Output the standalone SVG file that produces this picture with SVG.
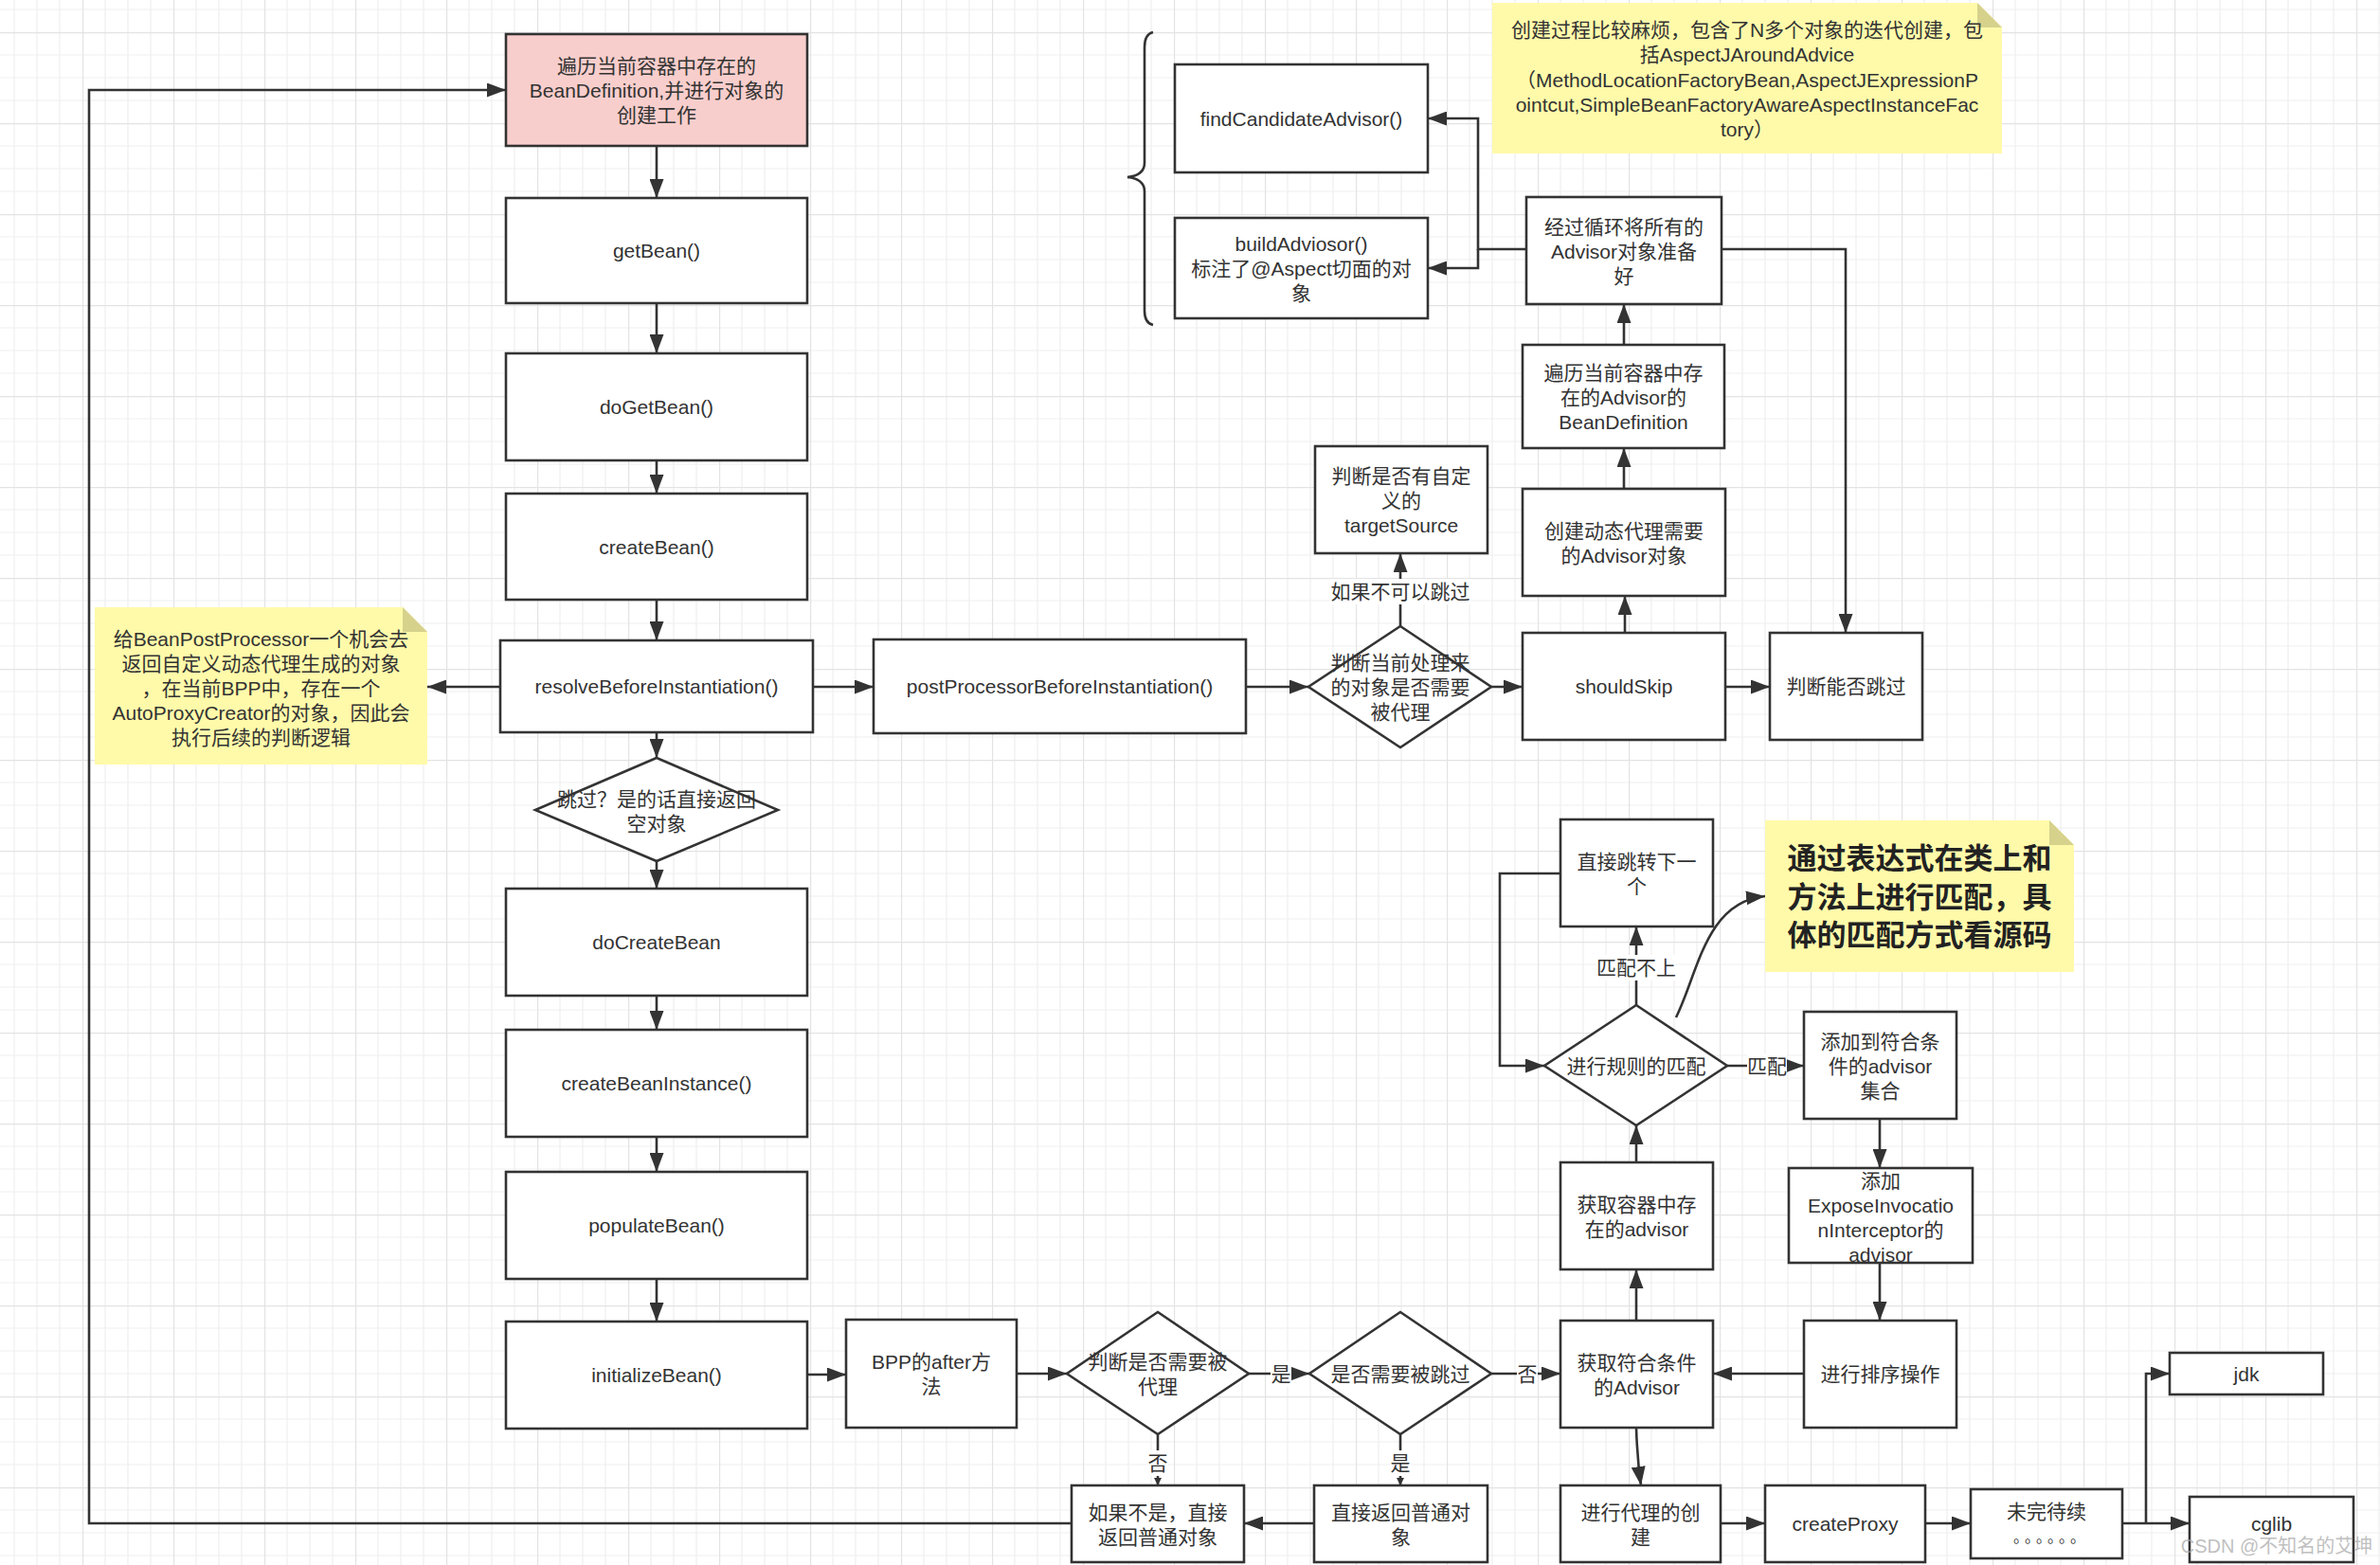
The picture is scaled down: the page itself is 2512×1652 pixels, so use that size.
<svg xmlns="http://www.w3.org/2000/svg" width="2512" height="1652" viewBox="0 0 2512 1652">
<defs>
<pattern id="grid" patternUnits="userSpaceOnUse" x="87" y="34" width="96" height="96">
<path d="M24,0V96M48,0V96M72,0V96M0,24H96M0,48H96M0,72H96" stroke="#efefef" stroke-width="1.2" fill="none"/>
<path d="M0.5,0V96M0,0.5H96" stroke="#e3e3e3" stroke-width="1.4" fill="none"/>
</pattern>
<marker id="ar" markerWidth="20" markerHeight="15" refX="20" refY="7.5" orient="auto" markerUnits="userSpaceOnUse"><path d="M0,0 L20,7.5 L0,15 z" fill="#333"/></marker>
<marker id="sm" markerWidth="8" markerHeight="8" refX="8" refY="4" orient="auto" markerUnits="userSpaceOnUse"><path d="M0,0 L8,4 L0,8 z" fill="#333"/></marker>
<style>
.b{fill:#fff;stroke:#333;stroke-width:2.6}
.pk{fill:#f8cecc;stroke:#333;stroke-width:2.6}
.nt{fill:#fffaaa}
.fd{fill:#d6d18b}
text,tspan{font-family:"Liberation Sans","Noto Sans CJK SC",sans-serif;font-size:21px;fill:#333;text-anchor:middle;dominant-baseline:central}
.big{font-size:31px;font-weight:bold;fill:#222}
.dots{font-size:16px;letter-spacing:4px}
.c{fill:none;stroke:#333;stroke-width:2.6}
.lb{fill:#fff}
.wm{font-size:20px;fill:#aaa;fill-opacity:0.75}
</style>
</defs>
<rect width="2512" height="1652" fill="#fff"/>
<rect width="2512" height="1652" fill="url(#grid)"/>

<g id="connectors">
<path class="c" marker-end="url(#ar)" d="M693,154V209"/>
<path class="c" marker-end="url(#ar)" d="M693,320V373"/>
<path class="c" marker-end="url(#ar)" d="M693,486V521"/>
<path class="c" marker-end="url(#ar)" d="M693,633V676"/>
<path class="c" marker-end="url(#ar)" d="M693,773V800"/>
<path class="c" marker-end="url(#ar)" d="M693,909V938"/>
<path class="c" marker-end="url(#ar)" d="M693,1051V1087"/>
<path class="c" marker-end="url(#ar)" d="M693,1200V1237"/>
<path class="c" marker-end="url(#ar)" d="M693,1350V1395"/>
<path class="c" marker-end="url(#ar)" d="M528,725H451"/>
<path class="c" marker-end="url(#ar)" d="M858,725H922"/>
<path class="c" marker-end="url(#ar)" d="M1315,725H1381"/>
<path class="c" marker-end="url(#ar)" d="M1574,725H1607"/>
<path class="c" marker-end="url(#ar)" d="M1478,661V584"/>
<path class="c" marker-end="url(#ar)" d="M1715,668V629"/>
<path class="c" marker-end="url(#ar)" d="M1714,516V473"/>
<path class="c" marker-end="url(#ar)" d="M1714,364V321"/>
<path class="c" marker-end="url(#ar)" d="M1611,263H1560V125H1507"/>
<path class="c" marker-end="url(#ar)" d="M1560,263V283H1507"/>
<path class="c" marker-end="url(#ar)" d="M1817,263H1948V668"/>
<path class="c" marker-end="url(#ar)" d="M1821,725H1868"/>
<path class="c" marker-end="url(#ar)" d="M852,1451H893"/>
<path class="c" marker-end="url(#ar)" d="M1073,1450H1126"/>
<path class="c" marker-end="url(#ar)" d="M1318,1450H1382"/>
<path class="c" marker-end="url(#ar)" d="M1574,1450H1647"/>
<path class="c" marker-end="url(#sm)" d="M1222,1514V1568"/>
<path class="c" marker-end="url(#sm)" d="M1478,1514V1568"/>
<path class="c" marker-end="url(#ar)" d="M1387,1608H1313"/>
<path class="c" marker-end="url(#ar)" d="M1131,1608H94V95H534"/>
<path class="c" marker-end="url(#ar)" d="M1727,1394V1340"/>
<path class="c" marker-end="url(#ar)" d="M1727,1227V1188"/>
<path class="c" marker-end="url(#ar)" d="M1727,1061V978"/>
<path class="c" marker-end="url(#ar)" d="M1647,922H1583V1125H1630"/>
<path class="c" marker-end="url(#ar)" d="M1823,1125H1904"/>
<path class="c" marker-end="url(#ar)" d="M1984,1181V1233"/>
<path class="c" marker-end="url(#ar)" d="M1984,1333V1394"/>
<path class="c" marker-end="url(#ar)" d="M1904,1450H1808"/>
<path class="c" marker-end="url(#ar)" d="M1727,1507Q1728,1540 1732,1568"/>
<path class="c" marker-end="url(#ar)" d="M1816,1608H1863"/>
<path class="c" marker-end="url(#ar)" d="M2032,1608H2080"/>
<path class="c" marker-end="url(#ar)" d="M2240,1608H2311"/>
<path class="c" marker-end="url(#ar)" d="M2265,1608V1450H2290"/>
<path class="c" marker-end="url(#ar)" d="M1769,1074C1792,1028 1800,952 1863,946"/>
<rect class="lb" x="1404" y="611" width="148" height="27"/>
<text x="1478" y="624">如果不可以跳过</text>
<rect class="lb" x="1685" y="1008" width="84" height="27"/>
<text x="1727" y="1021">匹配不上</text>
<rect class="lb" x="1844" y="1112" width="42" height="27"/>
<text x="1865" y="1125">匹配</text>
<rect class="lb" x="1341" y="1437" width="22" height="27"/>
<text x="1352" y="1450">是</text>
<rect class="lb" x="1601" y="1437" width="22" height="27"/>
<text x="1612" y="1450">否</text>
<rect class="lb" x="1211" y="1531" width="22" height="27"/>
<text x="1222" y="1544">否</text>
<rect class="lb" x="1467" y="1531" width="22" height="27"/>
<text x="1478" y="1544">是</text>
</g>

<g id="n1"><rect class="pk" x="534" y="36" width="318" height="118"/><text><tspan x="693" y="69">遍历当前容器中存在的</tspan><tspan x="693" y="95">BeanDefinition,并进行对象的</tspan><tspan x="693" y="121">创建工作</tspan></text></g>
<g id="n2"><rect class="b" x="534" y="209" width="318" height="111"/><text x="693" y="264.5">getBean()</text></g>
<g id="n3"><rect class="b" x="534" y="373" width="318" height="113"/><text x="693" y="429.5">doGetBean()</text></g>
<g id="n4"><rect class="b" x="534" y="521" width="318" height="112"/><text x="693" y="577">createBean()</text></g>
<g id="n5"><rect class="b" x="528" y="676" width="330" height="97"/><text x="693" y="724.5">resolveBeforeInstantiation()</text></g>
<g id="n6"><polygon class="b" points="693,800 821,855 693,909 565,855"/><text><tspan x="693" y="843">跳过？是的话直接返回</tspan><tspan x="693" y="869">空对象</tspan></text></g>
<g id="n7"><rect class="b" x="534" y="938" width="318" height="113"/><text x="693" y="994.5">doCreateBean</text></g>
<g id="n8"><rect class="b" x="534" y="1087" width="318" height="113"/><text x="693" y="1143.5">createBeanInstance()</text></g>
<g id="n9"><rect class="b" x="534" y="1237" width="318" height="113"/><text x="693" y="1293.5">populateBean()</text></g>
<g id="n10"><rect class="b" x="534" y="1395" width="318" height="113"/><text x="693" y="1451.5">initializeBean()</text></g>

<g id="noteLeft"><path class="nt" d="M100,641H425L451,667V807H100Z"/><path class="fd" d="M425,641L451,667H425Z"/><text><tspan x="275.5" y="674">给BeanPostProcessor一个机会去</tspan><tspan x="275.5" y="700">返回自定义动态代理生成的对象</tspan><tspan x="275.5" y="726">，在当前BPP中，存在一个</tspan><tspan x="275.5" y="752">AutoProxyCreator的对象，因此会</tspan><tspan x="275.5" y="778">执行后续的判断逻辑</tspan></text></g>

<g id="n11"><rect class="b" x="922" y="675" width="393" height="99"/><text x="1118.5" y="724.5">postProcessorBeforeInstantiation()</text></g>
<g id="n12"><polygon class="b" points="1478,661 1574,725 1478,789 1381,725"/><text><tspan x="1478" y="699">判断当前处理来</tspan><tspan x="1478" y="725">的对象是否需要</tspan><tspan x="1478" y="751">被代理</tspan></text></g>
<g id="n13"><rect class="b" x="1388" y="471" width="182" height="113"/><text><tspan x="1479" y="501.5">判断是否有自定</tspan><tspan x="1479" y="527.5">义的</tspan><tspan x="1479" y="553.5">targetSource</tspan></text></g>
<g id="n14"><rect class="b" x="1607" y="668" width="214" height="113"/><text x="1714" y="724.5">shouldSkip</text></g>
<g id="n15"><rect class="b" x="1868" y="668" width="161" height="113"/><text x="1948.5" y="724.5">判断能否跳过</text></g>
<g id="n16"><rect class="b" x="1607" y="516" width="214" height="113"/><text><tspan x="1714" y="559.5">创建动态代理需要</tspan><tspan x="1714" y="585.5">的Advisor对象</tspan></text></g>
<g id="n17"><rect class="b" x="1607" y="364" width="213" height="109"/><text><tspan x="1713.5" y="392.5">遍历当前容器中存</tspan><tspan x="1713.5" y="418.5">在的Advisor的</tspan><tspan x="1713.5" y="444.5">BeanDefinition</tspan></text></g>
<g id="n18"><rect class="b" x="1611" y="208" width="206" height="113"/><text><tspan x="1714" y="238.5">经过循环将所有的</tspan><tspan x="1714" y="264.5">Advisor对象准备</tspan><tspan x="1714" y="290.5">好</tspan></text></g>
<g id="n19"><rect class="b" x="1240" y="68" width="267" height="114"/><text x="1373.5" y="125">findCandidateAdvisor()</text></g>
<g id="n20"><rect class="b" x="1240" y="230" width="267" height="106"/><text><tspan x="1373.5" y="257">buildAdviosor()</tspan><tspan x="1373.5" y="283">标注了@Aspect切面的对</tspan><tspan x="1373.5" y="309">象</tspan></text></g>
<g id="brace"><path class="c" d="M1217,34Q1208,36 1208,50V172Q1208,185 1190,187Q1208,189 1208,202V328Q1208,341 1217,343"/></g>

<g id="noteTop"><path class="nt" d="M1575,3H2087L2113,29V162H1575Z"/><path class="fd" d="M2087,3L2113,29H2087Z"/><text><tspan x="1844" y="31">创建过程比较麻烦，包含了N多个对象的迭代创建，包</tspan><tspan x="1844" y="57">括AspectJAroundAdvice</tspan><tspan x="1844" y="84">（MethodLocationFactoryBean,AspectJExpressionP</tspan><tspan x="1844" y="110">ointcut,SimpleBeanFactoryAwareAspectInstanceFac</tspan><tspan x="1844" y="136">tory）</tspan></text></g>

<g id="n21"><rect class="b" x="1647" y="865" width="161" height="113"/><text><tspan x="1727.5" y="908.5">直接跳转下一</tspan><tspan x="1727.5" y="934.5">个</tspan></text></g>
<g id="n22"><polygon class="b" points="1727,1061 1823,1125 1727,1188 1630,1125"/><text x="1727" y="1125">进行规则的匹配</text></g>
<g id="noteRight"><path class="nt" d="M1863,866H2163L2189,892V1026H1863Z"/><path class="fd" d="M2163,866L2189,892H2163Z"/><text class="big"><tspan class="big" x="2026" y="906">通过表达式在类上和</tspan><tspan class="big" x="2026" y="947">方法上进行匹配，具</tspan><tspan class="big" x="2026" y="987">体的匹配方式看源码</tspan></text></g>
<g id="n23"><rect class="b" x="1904" y="1068" width="161" height="113"/><text><tspan x="1984.5" y="1098.5">添加到符合条</tspan><tspan x="1984.5" y="1124.5">件的advisor</tspan><tspan x="1984.5" y="1150.5">集合</tspan></text></g>
<g id="n24"><rect class="b" x="1888" y="1233" width="194" height="100"/><text><tspan x="1985" y="1246">添加</tspan><tspan x="1985" y="1272">ExposeInvocatio</tspan><tspan x="1985" y="1298">nInterceptor的</tspan><tspan x="1985" y="1324">advisor</tspan></text></g>
<g id="n25"><rect class="b" x="1904" y="1394" width="161" height="113"/><text x="1984.5" y="1450.5">进行排序操作</text></g>
<g id="n26"><rect class="b" x="1647" y="1394" width="161" height="113"/><text><tspan x="1727.5" y="1437.5">获取符合条件</tspan><tspan x="1727.5" y="1463.5">的Advisor</tspan></text></g>
<g id="n27"><rect class="b" x="1647" y="1227" width="161" height="113"/><text><tspan x="1727.5" y="1270.5">获取容器中存</tspan><tspan x="1727.5" y="1296.5">在的advisor</tspan></text></g>
<g id="n28"><rect class="b" x="893" y="1393" width="180" height="114"/><text><tspan x="983" y="1437">BPP的after方</tspan><tspan x="983" y="1463">法</tspan></text></g>
<g id="n29"><polygon class="b" points="1222,1385 1318,1450 1222,1514 1126,1450"/><text><tspan x="1222" y="1437">判断是否需要被</tspan><tspan x="1222" y="1463">代理</tspan></text></g>
<g id="n30"><polygon class="b" points="1478,1385 1574,1450 1478,1514 1382,1450"/><text x="1478" y="1450">是否需要被跳过</text></g>
<g id="n31"><rect class="b" x="1131" y="1568" width="182" height="81"/><text><tspan x="1222" y="1595.5">如果不是，直接</tspan><tspan x="1222" y="1621.5">返回普通对象</tspan></text></g>
<g id="n32"><rect class="b" x="1387" y="1568" width="183" height="81"/><text><tspan x="1478.5" y="1595.5">直接返回普通对</tspan><tspan x="1478.5" y="1621.5">象</tspan></text></g>
<g id="n33"><rect class="b" x="1647" y="1568" width="169" height="81"/><text><tspan x="1731.5" y="1595.5">进行代理的创</tspan><tspan x="1731.5" y="1621.5">建</tspan></text></g>
<g id="n34"><rect class="b" x="1863" y="1568" width="169" height="81"/><text x="1947.5" y="1608.5">createProxy</text></g>
<g id="n35"><rect class="b" x="2080" y="1572" width="160" height="73"/><text><tspan x="2160" y="1595">未完待续</tspan><tspan class="dots" x="2165" y="1622">。。。。。。</tspan></text></g>
<g id="n36"><rect class="b" x="2290" y="1428" width="162" height="44"/><text x="2371" y="1450">jdk</text></g>
<g id="n37"><rect class="b" x="2311" y="1580" width="173" height="69"/><text x="2397.5" y="1608">cglib</text></g>
<text class="wm" x="2403" y="1632">CSDN @不知名的艾坤</text>
</svg>
